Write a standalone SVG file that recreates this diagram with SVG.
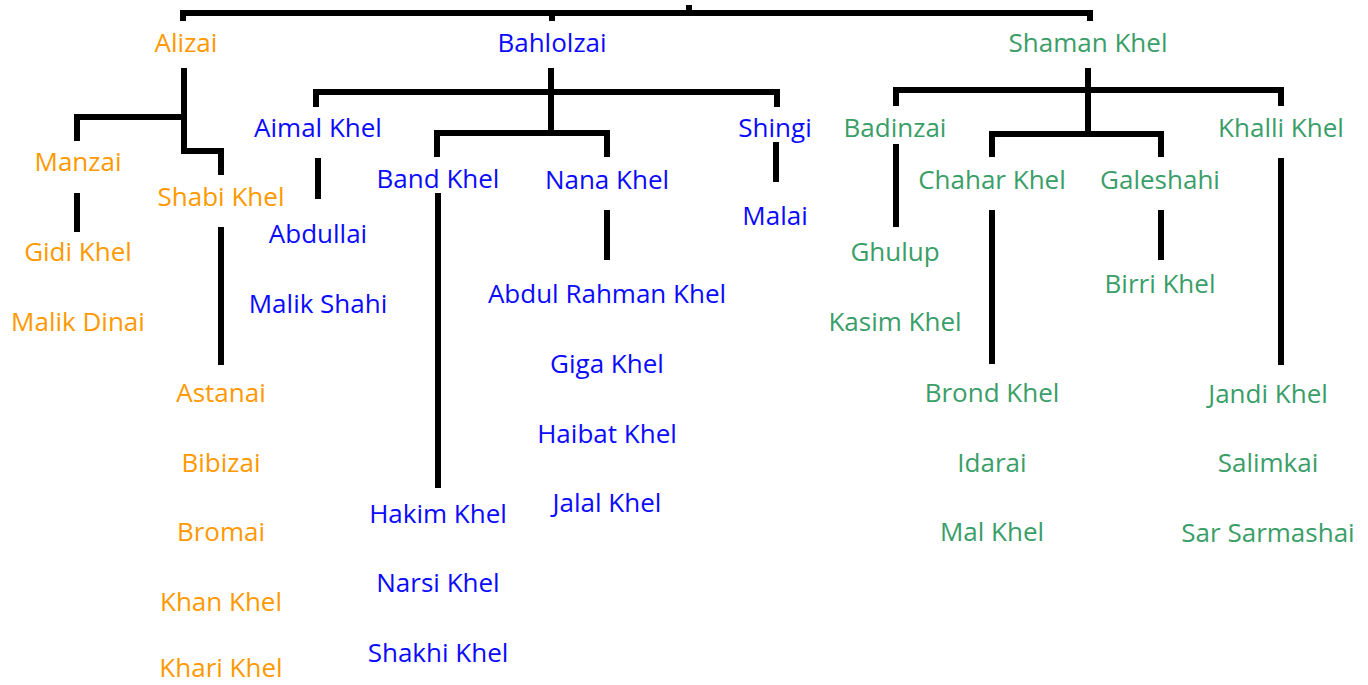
<svg xmlns="http://www.w3.org/2000/svg" width="1368" height="685" viewBox="0 0 1368 685">
<style>
text{font-family:"Open Sans","Liberation Sans",sans-serif;font-size:26px;text-anchor:middle}
.o{fill:#FF9900}.b{fill:#0A0AFF}.g{fill:#3A9E68}
.c path{fill:none;stroke:#000;stroke-width:6;stroke-linejoin:miter;stroke-linecap:butt}
</style>
<rect width="1368" height="685" fill="#fff"/>
<g class="c" id="connectors">
<path d="M183,21 V13 H1090 V21" stroke-width="5"/>
<path d="M552,13 V21" stroke-width="5"/>
<path d="M689,5 V13" stroke-width="5"/>
<path d="M184,68 V151 H221 V175"/>
<path d="M77,141 V117 H184"/>
<path d="M77,193 V232"/>
<path d="M221,227 V365"/>
<path d="M316,107 V92 H777 V107"/>
<path d="M551,68 V133"/>
<path d="M437,157 V133 H607 V157"/>
<path d="M318,158 V199"/>
<path d="M438,193 V488"/>
<path d="M607,210 V260"/>
<path d="M776,142 V182"/>
<path d="M896,106 V90 H1281 V106"/>
<path d="M1088,68 V134"/>
<path d="M992,157 V134 H1161 V157"/>
<path d="M896,144 V227"/>
<path d="M992,210 V364"/>
<path d="M1161,210 V260"/>
<path d="M1281,158 V365"/>
</g>
<g id="alizai"><text class="o" x="186" y="52">Alizai</text></g>
<g id="manzai"><text class="o" x="78" y="171">Manzai</text></g>
<g id="shabi-khel"><text class="o" x="221" y="206">Shabi Khel</text></g>
<g id="gidi-khel"><text class="o" x="78" y="261">Gidi Khel</text></g>
<g id="malik-dinai"><text class="o" x="78" y="331">Malik Dinai</text></g>
<g id="astanai"><text class="o" x="221" y="402">Astanai</text></g>
<g id="bibizai"><text class="o" x="221" y="472">Bibizai</text></g>
<g id="bromai"><text class="o" x="221" y="541">Bromai</text></g>
<g id="khan-khel"><text class="o" x="221" y="611">Khan Khel</text></g>
<g id="khari-khel"><text class="o" x="221" y="677">Khari Khel</text></g>

<g id="bahlolzai"><text class="b" x="552" y="52">Bahlolzai</text></g>
<g id="aimal-khel"><text class="b" x="318" y="137">Aimal Khel</text></g>
<g id="shingi"><text class="b" x="775" y="137">Shingi</text></g>
<g id="band-khel"><text class="b" x="438" y="188">Band Khel</text></g>
<g id="nana-khel"><text class="b" x="607" y="189">Nana Khel</text></g>
<g id="abdullai"><text class="b" x="318" y="243">Abdullai</text></g>
<g id="malai"><text class="b" x="775" y="225">Malai</text></g>
<g id="malik-shahi"><text class="b" x="318" y="313">Malik Shahi</text></g>
<g id="abdul-rahman-khel"><text class="b" x="607" y="303">Abdul Rahman Khel</text></g>
<g id="giga-khel"><text class="b" x="607" y="373">Giga Khel</text></g>
<g id="haibat-khel"><text class="b" x="607" y="443">Haibat Khel</text></g>
<g id="jalal-khel"><text class="b" x="607" y="512">Jalal Khel</text></g>
<g id="hakim-khel"><text class="b" x="438" y="523">Hakim Khel</text></g>
<g id="narsi-khel"><text class="b" x="438" y="592">Narsi Khel</text></g>
<g id="shakhi-khel"><text class="b" x="438" y="662">Shakhi Khel</text></g>

<g id="shaman-khel"><text class="g" x="1088" y="52">Shaman Khel</text></g>
<g id="badinzai"><text class="g" x="895" y="137">Badinzai</text></g>
<g id="khalli-khel"><text class="g" x="1281" y="137">Khalli Khel</text></g>
<g id="chahar-khel"><text class="g" x="992" y="189">Chahar Khel</text></g>
<g id="galeshahi"><text class="g" x="1160" y="189">Galeshahi</text></g>
<g id="ghulup"><text class="g" x="895" y="261">Ghulup</text></g>
<g id="birri-khel"><text class="g" x="1160" y="293">Birri Khel</text></g>
<g id="kasim-khel"><text class="g" x="895" y="331">Kasim Khel</text></g>
<g id="brond-khel"><text class="g" x="992" y="402">Brond Khel</text></g>
<g id="jandi-khel"><text class="g" x="1268" y="403">Jandi Khel</text></g>
<g id="idarai"><text class="g" x="992" y="472">Idarai</text></g>
<g id="salimkai"><text class="g" x="1268" y="472">Salimkai</text></g>
<g id="mal-khel"><text class="g" x="992" y="541">Mal Khel</text></g>
<g id="sar-sarmashai"><text class="g" x="1268" y="542">Sar Sarmashai</text></g>
</svg>
